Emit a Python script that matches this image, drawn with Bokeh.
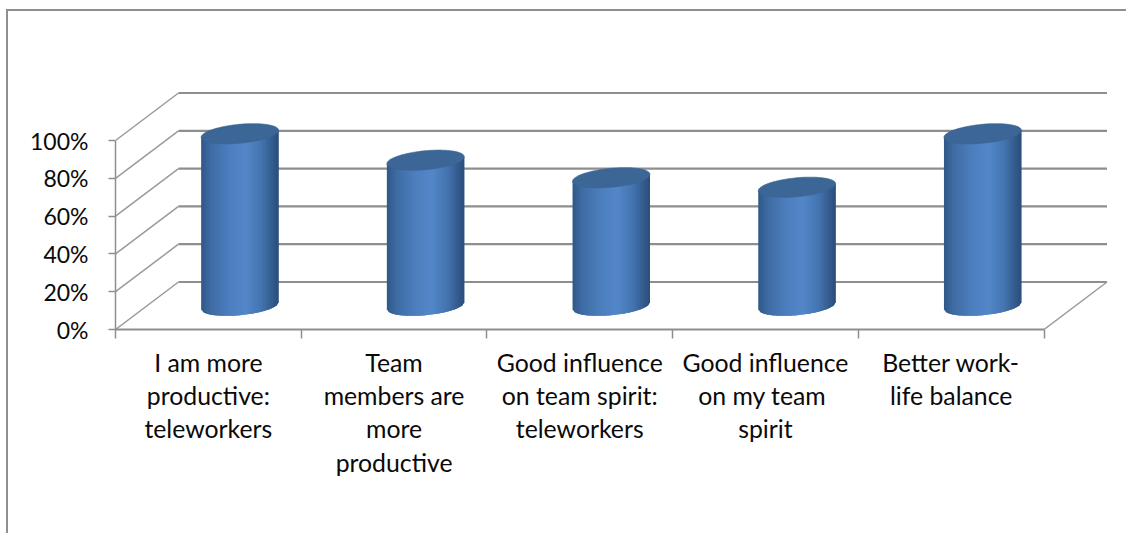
from bokeh.plotting import figure
from bokeh.models import FixedTicker, Range1d, LinearAxis
from bokeh.embed import file_html
from bokeh.resources import INLINE
import numpy as np

# ---- data ----
categories = [
    "I am more\nproductive:\nteleworkers",
    "Team\nmembers are\nmore\nproductive",
    "Good influence\non team spirit:\nteleworkers",
    "Good influence\non my  team\nspirit",
    "Better work-\nlife balance",
]
values = [91, 77, 67.7, 62.7, 91]
y_ticks = [0, 20, 40, 60, 80, 100]
y_labels = ["0%", "20%", "40%", "60%", "80%", "100%"]

# ---- 3D projection of the chart, in data units ----
PX_X = 185.7           # pixels per category
PX_Y = 1.89            # pixels per percent
DEPTH_X = 63 / PX_X    # back wall offset, categories
DEPTH_Y = 47.5 / PX_Y  # back wall offset, percent
HALF_W = 38.7 / PX_X   # cylinder half width
ELL_H = 9.5 / PX_Y     # ellipse half height
TILT = 3.5 / PX_Y      # ellipse tilt at its edge
GRID = "#8e8e8e"

W, H = 1126, 533
LEFT, BOTTOM = 115, 204

p = figure(width=W, height=H, output_backend="svg", toolbar_location=None,
           x_range=Range1d(0, (W - LEFT) / PX_X),
           y_range=Range1d(0, (H - BOTTOM) / PX_Y),
           min_border_left=LEFT, min_border_bottom=BOTTOM, min_border_top=0, min_border_right=0,
           x_axis_type=None, y_axis_type=None, outline_line_color=None,
           background_fill_color="white", border_fill_color="white")
p.grid.visible = False

# ---- axes ----
yaxis = LinearAxis(ticker=FixedTicker(ticks=y_ticks), bounds=(0, 100),
                   major_label_overrides={t: l for t, l in zip(y_ticks, y_labels)},
                   major_tick_in=0, major_tick_out=7, minor_tick_line_color=None,
                   axis_line_color=GRID, axis_line_width=1.5,
                   major_tick_line_color=GRID, major_tick_line_width=1.5,
                   major_label_text_font="Lato", major_label_text_font_size="23px",
                   major_label_text_color="#0a0a0a", major_label_standoff=20)
p.add_layout(yaxis, "left")

centers = [i + 0.5 for i in range(len(categories))]
xaxis = LinearAxis(ticker=FixedTicker(ticks=centers, minor_ticks=list(range(len(categories) + 1))),
                   bounds=(0, len(categories)),
                   major_label_overrides={c: l for c, l in zip(centers, categories)},
                   major_tick_in=0, major_tick_out=0,
                   minor_tick_in=0, minor_tick_out=9, minor_tick_line_color=GRID, minor_tick_line_width=1.5,
                   axis_line_color=GRID, axis_line_width=2,
                   major_label_text_font="Lato", major_label_text_font_size="24.8px",
                   major_label_text_color="#0a0a0a", major_label_standoff=9,
                   major_label_text_line_height=1.155)
p.add_layout(xaxis, "below")

# ---- back wall and depth lines ----
n = len(categories)
p.segment(x0=[DEPTH_X] * len(y_ticks), y0=[t + DEPTH_Y for t in y_ticks],
          x1=[n + DEPTH_X] * len(y_ticks), y1=[t + DEPTH_Y for t in y_ticks],
          line_color=GRID, line_width=2.2)
p.segment(x0=[0] * len(y_ticks), y0=y_ticks,
          x1=[DEPTH_X] * len(y_ticks), y1=[t + DEPTH_Y for t in y_ticks],
          line_color="#9a9a9a", line_width=1.5)
p.segment(x0=[n], y0=[0], x1=[n + DEPTH_X], y1=[DEPTH_Y], line_color="#9a9a9a", line_width=1.5)

# ---- cylinders ----
stops_u = [-1.0, -0.75, -0.3, 0.15, 0.55, 0.85, 1.0]
stops_rgb = np.array([[0x30, 0x58, 0x88], [0x3e, 0x6c, 0xa3], [0x4c, 0x7e, 0xbd], [0x53, 0x87, 0xc9],
                      [0x44, 0x75, 0xb0], [0x33, 0x5a, 0x8c], [0x2b, 0x4e, 0x7a]])
N = 40
edges = np.linspace(-1, 1, N + 1)
xs, ys, cols = [], [], []
for c, v in zip(centers, values):
    base = DEPTH_Y / 2
    cx = c + DEPTH_X / 2
    for i, (a, b) in enumerate(zip(edges[:-1], edges[1:])):
        m = (a + b) / 2
        rgb = [int(round(np.interp(m, stops_u, stops_rgb[:, k]))) for k in range(3)]
        cols.append("#%02x%02x%02x" % tuple(rgb))
        low = lambda u: base + TILT * u - ELL_H * np.sqrt(max(0.0, 1 - u * u))
        top = lambda u: base + v + TILT * u
        # each strip runs on under the next one, so that no seam shows
        b2 = edges[min(i + 2, N)]
        xs.append([cx + a * HALF_W, cx + b * HALF_W, cx + b2 * HALF_W, cx + b2 * HALF_W, cx + a * HALF_W])
        ys.append([low(a), low(b), low(b2), top(b2), top(a)])
p.patches(xs, ys, fill_color=cols, line_color=None)

t = np.linspace(0, 2 * np.pi, 80)
tx, ty = [], []
for c, v in zip(centers, values):
    cx = c + DEPTH_X / 2
    tx.append(list(cx + HALF_W * np.cos(t)))
    ty.append(list(DEPTH_Y / 2 + v + TILT * np.cos(t) + ELL_H * np.sin(t)))
p.patches(tx, ty, fill_color="#3b6695", line_color="#3b6695", line_width=0.6)

# ---- picture frame (top and left only) ----
p.stylesheets = ["""
:host::before { content: ""; position: absolute; left: 6px; top: 9px; width: 2px; bottom: 0;
                background: #8f8f8f; z-index: 5; }
:host::after  { content: ""; position: absolute; left: 6px; top: 9px; right: 0; height: 2px;
                background: #8f8f8f; z-index: 5; }
"""]

open("out.html", "w").write(file_html(p, INLINE))
